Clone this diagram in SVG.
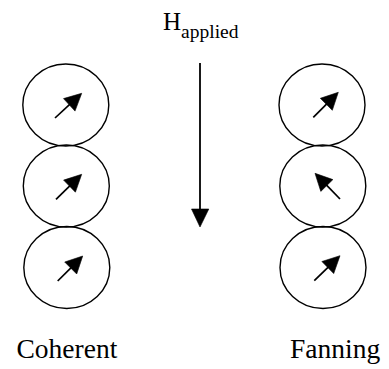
<svg xmlns="http://www.w3.org/2000/svg" width="389" height="369" viewBox="0 0 389 369">
<defs>
<style>
.cell{fill:none;stroke:#000;stroke-width:1.4}
.spin{stroke:#000;stroke-width:1.7;fill:none}
.head{fill:#000;stroke:#000;stroke-width:0.6;stroke-linejoin:miter}
.field{stroke:#000;stroke-width:1.8;fill:none}
.lbl{fill:#000;font-family:"Liberation Serif","DejaVu Serif","Times New Roman",serif}
</style>
</defs>
<rect width="389" height="369" fill="#fff"/>
<g id="title"><text class="lbl" x="163" y="30" font-size="25">H<tspan font-size="19.5" dy="8">applied</tspan></text></g>
<g id="coherent-1"><ellipse class="cell" cx="65.8" cy="105" rx="43" ry="41"/></g>
<g id="coherent-2"><ellipse class="cell" cx="66.3" cy="186" rx="43" ry="41"/></g>
<g id="coherent-3"><ellipse class="cell" cx="66.8" cy="267.5" rx="43" ry="41"/></g>
<g id="fanning-1"><ellipse class="cell" cx="322" cy="105" rx="43" ry="41"/></g>
<g id="fanning-2"><ellipse class="cell" cx="322.8" cy="186" rx="43" ry="41"/></g>
<g id="fanning-3"><ellipse class="cell" cx="323" cy="267.5" rx="43" ry="41"/></g>
<g id="connectors">
<line class="spin" x1="55" y1="118" x2="70" y2="104.1"/>
<polygon class="head" points="81.7,93.3 75,111.1 63.5,98.6"/>
<line class="spin" x1="56" y1="199.3" x2="70.3" y2="185.4"/>
<polygon class="head" points="81.7,174.3 75.4,192.2 63.6,180.1"/>
<line class="spin" x1="57.7" y1="281" x2="71.4" y2="267.3"/>
<polygon class="head" points="82.7,256 76.7,274 64.7,262"/>
<line class="spin" x1="313.3" y1="117.3" x2="327" y2="103.6"/>
<polygon class="head" points="338.3,92.3 332.3,110.3 320.3,98.3"/>
<line class="spin" x1="340" y1="199" x2="326.3" y2="184.9"/>
<polygon class="head" points="315,173.3 332.9,179.6 320.8,191.4"/>
<line class="spin" x1="314.3" y1="280.7" x2="328.5" y2="266.8"/>
<polygon class="head" points="340,255.7 333.7,273.6 321.9,261.5"/>
<line class="field" x1="200" y1="63" x2="200" y2="211"/>
<polygon class="head" points="191.5,209 208.8,209 200,227"/>
</g>
<g id="label-coherent"><text class="lbl" x="16.5" y="358" font-size="27.5">Coherent</text></g>
<g id="label-fanning"><text class="lbl" x="290" y="358" font-size="27.5">Fanning</text></g>
</svg>
